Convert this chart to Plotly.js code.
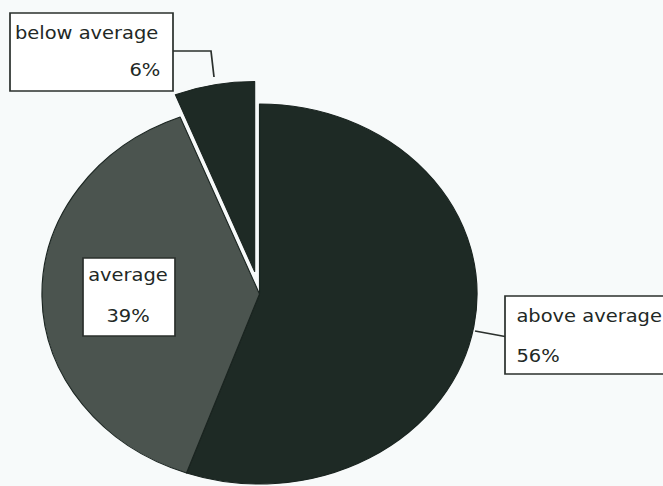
<!DOCTYPE html>
<html><head><meta charset="utf-8">
<script src="https://cdn.plot.ly/plotly-3.0.1.min.js"></script>
<style>
html,body{margin:0;padding:0;background:#f7fafa;overflow:hidden;width:663px;height:486px;}
#wrap{width:663px;height:486px;overflow:hidden;position:relative;}
#chart{position:absolute;left:0;top:0;transform-origin:0 0;}
</style></head><body>
<div id="wrap"><div id="chart"></div></div>
<script>
// ---- data ----
const categories = ['above average', 'average', 'below average'];
const values = [56, 39, 6];
const pullOut = [0, 0, 0.12];
const sliceColors = ['#1e2a25', '#4b544f', '#1e2a25'];

// ---- layout helpers ----
const SX = 1.145;               // horizontal stretch of the original print
const W = Math.round(663 / SX), H = 540;
const chart = document.getElementById('chart');
chart.style.width = W + 'px';
chart.style.height = H + 'px';
chart.style.transform = 'scaleX(' + SX + ')';

const px = x => (x / SX) / W;   // reference pixel -> paper
const py = y => 1 - y / H;

const R = 190, CX = 259.5, CY = 294;
const half = R * (1 + Math.max(...pullOut));
const dom = {
  x: [(CX / SX - half) / W, (CX / SX + half) / W],
  y: [(H - CY - half) / H, (H - CY + half) / H]
};

const font = {family: 'DejaVu Sans', size: 17, color: '#222825'};
const lineStyle = {color: '#2b302d', width: 1.5};
const pct = values.map(v => v + '%');

const trace = {
  type: 'pie',
  labels: categories,
  values: values,
  pull: pullOut,
  sort: false,
  direction: 'clockwise',
  rotation: 0,
  textinfo: 'none',
  hoverinfo: 'skip',
  showlegend: false,
  domain: dom,
  marker: {colors: sliceColors, line: {color: '#1a2420', width: 1}}
};

function box(x0, y0, x1, y1) {
  return {type: 'rect', xref: 'paper', yref: 'paper', x0: px(x0), x1: px(x1), y0: py(y0), y1: py(y1),
          fillcolor: '#ffffff', line: lineStyle, layer: 'above'};
}
function path(pts) {
  return {type: 'path', xref: 'paper', yref: 'paper', layer: 'above', line: lineStyle,
          path: pts.map((p, i) => (i ? 'L' : 'M') + px(p[0]) + ',' + py(p[1])).join(' ')};
}
function txt(t, x, y, xanchor) {
  return {text: t, x: px(x), y: py(y), xref: 'paper', yref: 'paper', xanchor: xanchor, yanchor: 'middle',
          showarrow: false, font: font};
}

const layout = {
  width: W, height: H,
  margin: {l: 0, r: 0, t: 0, b: 0},
  paper_bgcolor: '#f7fafa',
  plot_bgcolor: '#f7fafa',
  shapes: [
    box(10, 13, 173, 91),
    path([[173, 51], [211, 51], [214, 77]]),
    box(83, 258, 175, 336),
    box(505, 296, 700, 374),
    path([[475, 331], [505, 336.5]])
  ],
  annotations: [
    txt(categories[2], 13, 33.5, 'left'),
    txt(pct[2], 163, 70, 'right'),
    txt(categories[1], 128, 275, 'center'),
    txt(pct[1], 128, 316, 'center'),
    txt(categories[0], 514, 316, 'left'),
    txt(pct[0], 514, 356, 'left')
  ]
};

Plotly.newPlot(chart, [trace], layout, {staticPlot: true, displayModeBar: false});
</script>
</body></html>
